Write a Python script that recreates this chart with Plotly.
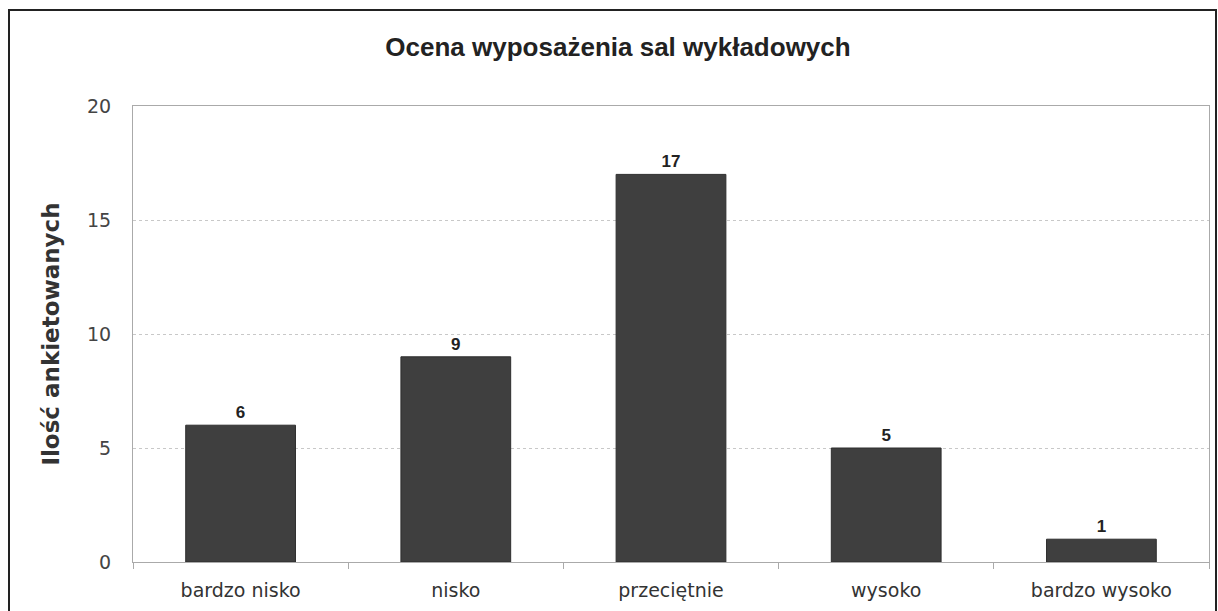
import plotly.graph_objects as go

categories = ["bardzo nisko", "nisko", "przeciętnie", "wysoko", "bardzo wysoko"]
values = [6, 9, 17, 5, 1]
y_ticks = [0, 5, 10, 15, 20]

W, H = 1218, 611
ml, mr, mt, mb = 133, 9, 106, 49
pw, ph = W - ml - mr, H - mt - mb

def px_x(px):
    return (px - ml) / pw

def px_y(py):
    return (H - mb - py) / ph

fig = go.Figure()
fig.add_trace(go.Bar(
    x=categories, y=values,
    marker=dict(color="#3f3f3f", line=dict(color="#2e2e2e", width=1)),
    width=0.51,
    text=["<b>%d</b>" % v for v in values],
    textposition="outside",
    textfont=dict(family="Liberation Sans", size=17, color="#222222"),
    cliponaxis=False,
    hoverinfo="skip",
))

fig.update_layout(
    width=W, height=H,
    margin=dict(l=ml, r=mr, t=mt, b=mb),
    paper_bgcolor="white", plot_bgcolor="white",
    showlegend=False,
    title=dict(text="<b>Ocena wyposażenia sal wykładowych</b>",
               x=618 / W, xanchor="center", y=1 - 47 / H, yanchor="middle",
               font=dict(family="Liberation Sans", size=26, color="#222222")),
    xaxis=dict(
        tickfont=dict(family="DejaVu Sans", size=19, color="#333333"),
        showline=True, linecolor="#aaaaaa", linewidth=1, mirror=True,
        showgrid=False, ticks="outside", tickson="boundaries", ticklen=6,
        tickcolor="#aaaaaa", ticklabelstandoff=11,
    ),
    yaxis=dict(
        range=[0, 20], tickvals=y_ticks,
        tickfont=dict(family="DejaVu Sans", size=19, color="#444444"),
        showgrid=True, gridcolor="#c8c8c8", griddash="dot", gridwidth=1,
        showline=True, linecolor="#aaaaaa", linewidth=1, mirror=True,
        zeroline=False, ticks="", ticklabelstandoff=17,
        title=dict(text="<b>Ilość ankietowanych</b>",
                   font=dict(family="DejaVu Sans", size=23, color="#333333"),
                   standoff=20),
    ),
    shapes=[
        dict(type="rect", xref="paper", yref="paper",
             x0=px_x(9), x1=px_x(1216), y0=px_y(615), y1=px_y(10),
             line=dict(color="#222222", width=2), fillcolor="rgba(0,0,0,0)",
             layer="below"),
    ],
)

fig.write_html("out.html", config={"displayModeBar": False},
               post_script="document.body.style.margin='0';document.body.style.overflow='hidden';")
